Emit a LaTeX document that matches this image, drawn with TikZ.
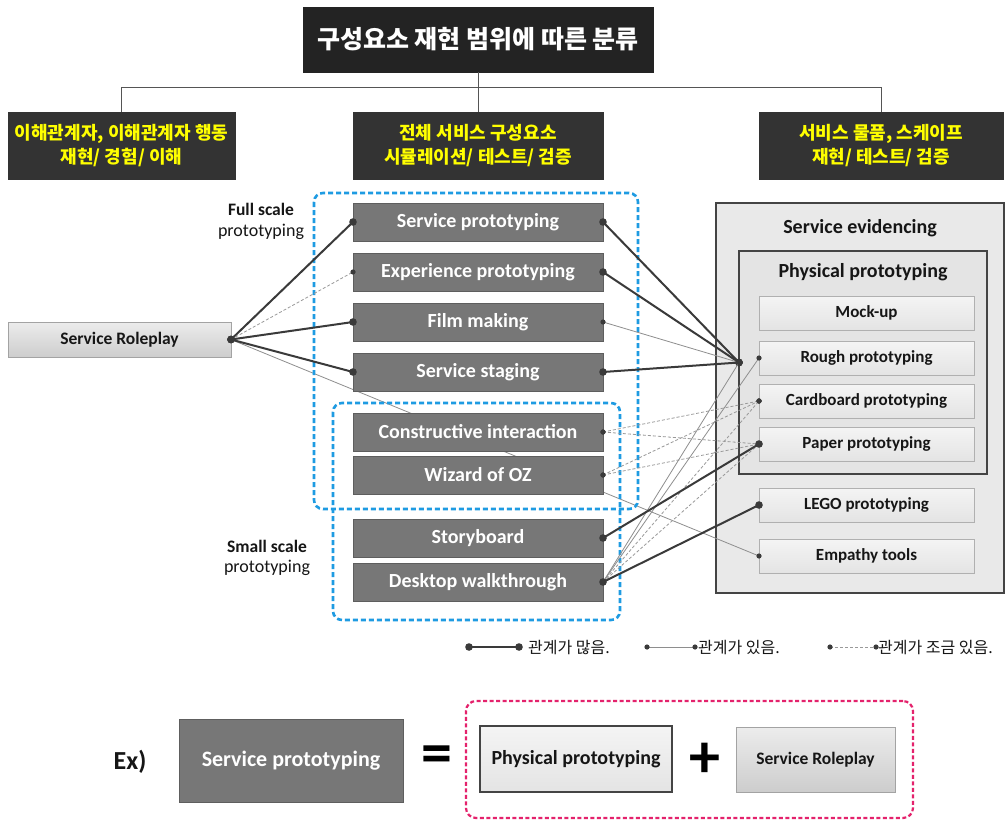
\documentclass[tikz,border=0pt]{standalone}
\usepackage{fontspec}
\setmainfont{Carlito}
\newfontfamily\kr{Noto Sans CJK KR}
\usetikzlibrary{calc}
\pgfdeclarelayer{canvas}
\pgfdeclarelayer{back}
\pgfsetlayers{canvas,back,main}

\definecolor{titlebg}{HTML}{232323}
\definecolor{headbg}{HTML}{333333}
\definecolor{headtx}{HTML}{FFFF00}
\definecolor{midbg}{HTML}{777777}
\definecolor{midbd}{HTML}{5E5E5E}
\definecolor{itembd}{HTML}{B0B0B0}
\definecolor{itemtop}{HTML}{F4F4F4}
\definecolor{itembot}{HTML}{E4E4E4}
\definecolor{roletop}{HTML}{ECECEC}
\definecolor{rolebot}{HTML}{CDCDCD}
\definecolor{rolebd}{HTML}{A3A3A3}
\definecolor{panelbd}{HTML}{444444}
\definecolor{panelbg}{HTML}{E9E9E9}
\definecolor{physbg}{HTML}{E4E4E4}
\definecolor{ink}{HTML}{161616}
\definecolor{blueline}{HTML}{1E9BE2}
\definecolor{pinkline}{HTML}{E4226C}
\definecolor{strong}{HTML}{3A3A3A}
\definecolor{weak}{HTML}{8E8E8E}
\definecolor{faint}{HTML}{999999}
\definecolor{treeln}{HTML}{555555}

\tikzset{
  base/.style={inner sep=0pt, outer sep=0pt},
  titlebox/.style={base, fill=titlebg, draw=titlebg, minimum width=350, minimum height=65,
    text=white, font=\kr\bfseries\fontsize{25}{30}\selectfont},
  headbox/.style={base, fill=headbg, draw=headbg, minimum height=67, text=headtx,
    align=center, font=\kr\bfseries\fontsize{18}{24}\selectfont},
  midbox/.style={base, fill=midbg, draw=midbd, minimum width=250, minimum height=38,
    text=white, font=\bfseries\fontsize{20}{24}\selectfont},
  itembox/.style={base, draw=itembd, top color=itemtop, bottom color=itembot,
    minimum width=215, minimum height=34, text=ink, font=\bfseries\fontsize{17}{20}\selectfont},
  rolebox/.style={base, draw=rolebd, top color=roletop, bottom color=rolebot,
    text=ink, font=\bfseries\fontsize{17.5}{20}\selectfont},
  panel/.style={base, draw=panelbd, line width=2pt},
  paneltitle/.style={text=ink, font=\bfseries\fontsize{20}{24}\selectfont},
  scopebox/.style={draw=blueline, line width=2.6pt, dash pattern=on 5pt off 3pt, rounded corners=9pt},
  scalelabel/.style={text=ink, align=center, font=\fontsize{18}{23}\selectfont},
  tree/.style={draw=treeln, line width=1pt},
  strongln/.style={draw=strong, line width=2pt},
  weakln/.style={draw=weak, line width=0.8pt},
  faintln/.style={draw=faint, line width=0.8pt, dash pattern=on 3pt off 2pt},
  strongdot/.style={fill=strong, radius=3.8pt},
  weakdot/.style={fill=strong, radius=2.6pt},
  faintdot/.style={fill=strong, radius=2.6pt},
  legendtext/.style={anchor=west, inner sep=0pt, text=ink, font=\kr\fontsize{16}{20}\selectfont},
  bigsign/.style={text=black, font=\bfseries\fontsize{62}{62}\selectfont},
}
% a connector with a dot at each end: kind (strong/weak/faint), start, end
\newcommand\tie[3]{\draw[#1ln] (#2) -- (#3); \fill[#1dot] (#2) circle[] (#3) circle[];}

\begin{document}
\begin{tikzpicture}[x=1pt,y=-1pt]
\begin{pgfonlayer}{canvas}
  \fill[white] (0,0) rectangle (1008,821);
\end{pgfonlayer}
\useasboundingbox (0,0) rectangle (1008,821);

% ---- classification header ----
\node[titlebox] (title) at (478,39.5) {구성요소 재현 범위에 따른 분류};
\node[headbox, minimum width=227] (hleft) at (121.5,145.5) {이해관계자, 이해관계자 행동\\재현/ 경험/ 이해};
\node[headbox, minimum width=250] (hmid) at (478,145.5) {전체 서비스 구성요소\\시뮬레이션/ 테스트/ 검증};
\node[headbox, minimum width=244] (hright) at (881,145.5) {서비스 물품, 스케이프\\재현/ 테스트/ 검증};
\draw[tree] (title.south) -- (hmid.north);
\draw[tree] (hleft.north) -- ++(0,-24) -| (hright.north);

% ---- right panel: service evidencing ----
\begin{pgfonlayer}{back}
  \node[panel, fill=panelbg, minimum width=288, minimum height=390] (evid) at (860,398) {};
  \node[panel, fill=physbg, minimum width=248, minimum height=223] (phys) at (863,362.5) {};
\end{pgfonlayer}
\node[paneltitle] (evidtitle) at (860,228) {Service evidencing};
\node[paneltitle] (phystitle) at (863,272) {Physical prototyping};
\node[itembox] (mock)  at (866.5,313) {Mock-up};
\node[itembox] (rough) at (866.5,358) {Rough prototyping};
\node[itembox] (card)  at (866.5,401) {Cardboard prototyping};
\node[itembox] (paper) at (866.5,444) {Paper prototyping};
\node[itembox] (lego)  at (866.5,505) {LEGO prototyping};
\node[itembox] (empty) at (866.5,556) {Empathy tools};
\coordinate (hub) at (phys.west);

% ---- left: service roleplay ----
\node[rolebox, minimum width=223, minimum height=35] (role) at (119.5,339.5) {Service Roleplay};

% ---- middle column of methods ----
\node[midbox] (sp)    at (478,222) {Service prototyping};
\node[midbox] (exp)   at (478,272) {Experience prototyping};
\node[midbox] (film)  at (478,322) {Film making};
\node[midbox] (stage) at (478,372) {Service staging};
\node[midbox] (ci)    at (478,432) {Constructive interaction};
\node[midbox] (woz)   at (478,475) {Wizard of OZ};
\node[midbox] (story) at (478,538) {Storyboard};
\node[midbox] (desk)  at (478,582) {Desktop walkthrough};

% scale groupings
\draw[scopebox] (314,193) rectangle (638,509);
\draw[scopebox] (333,403) rectangle (620,620);
\node[scalelabel] (fulls) at (261,209) {\bfseries\fontsize{17.5}{20}\selectfont Full scale};
\node[scalelabel] (fullp) at (261,232) {prototyping};
\node[scalelabel] (smalls) at (267,546) {\bfseries\fontsize{17.5}{20}\selectfont Small scale};
\node[scalelabel] (smallp) at (267,568) {prototyping};

% ---- relations ----
\begin{pgfonlayer}{back}
  \draw[weakln] (role.east) -- (empty.west);
\end{pgfonlayer}
\fill[weakdot] (empty.west) circle[];
\tie{strong}{role.east}{sp.west}
\tie{faint}{role.east}{exp.west}
\tie{strong}{role.east}{film.west}
\tie{strong}{role.east}{stage.west}

\tie{strong}{sp.east}{hub}
\tie{strong}{exp.east}{hub}
\tie{weak}{film.east}{hub}
\tie{strong}{stage.east}{hub}

\tie{faint}{ci.east}{card.west}
\tie{faint}{ci.east}{paper.west}
\tie{faint}{woz.east}{card.west}
\tie{faint}{woz.east}{paper.west}

\tie{faint}{desk.east}{card.west}
\tie{faint}{desk.east}{paper.west}
\tie{weak}{desk.east}{hub}
\tie{weak}{desk.east}{rough.west}
\tie{strong}{story.east}{paper.west}
\tie{strong}{desk.east}{lego.west}

% ---- legend ----
\coordinate (la1) at (469,647); \coordinate (lb1) at (519,647);
\coordinate (la2) at (647,647); \coordinate (lb2) at (695,647);
\coordinate (la3) at (830,647); \coordinate (lb3) at (876,647);
\tie{strong}{la1}{lb1}
\tie{weak}{la2}{lb2}
\tie{faint}{la3}{lb3}
\node[legendtext] (lt1) at (528,647) {관계가 많음.};
\node[legendtext] (lt2) at (698,647) {관계가 있음.};
\node[legendtext] (lt3) at (878,647) {관계가 조금 있음.};

% ---- example ----
\node[text=ink, font=\bfseries\fontsize{26}{30}\selectfont] (ex) at (130,762) {Ex)};
\node[base, fill=midbg, draw=midbd, minimum width=224, minimum height=83, text=white,
  font=\bfseries\fontsize{22}{26}\selectfont] (exsp) at (291,760.5) {Service prototyping};
\node[bigsign] (eq) at (437,760) {=};
\node[base, draw=pinkline, line width=2.2pt, dash pattern=on 4pt off 2.5pt, rounded corners=10pt,
  minimum width=447, minimum height=117] (combo) at (689.5,759.5) {};
\node[base, draw=panelbd, line width=1.5pt, top color=itemtop, bottom color=itembot,
  minimum width=192, minimum height=66, text=ink,
  font=\bfseries\fontsize{20}{24}\selectfont] (exphys) at (576,759) {Physical prototyping};
\node[bigsign] (plus) at (705,760) {+};
\node[rolebox, minimum width=159, minimum height=65] (exrole) at (815.5,759.5) {Service Roleplay};
\end{tikzpicture}
\end{document}
